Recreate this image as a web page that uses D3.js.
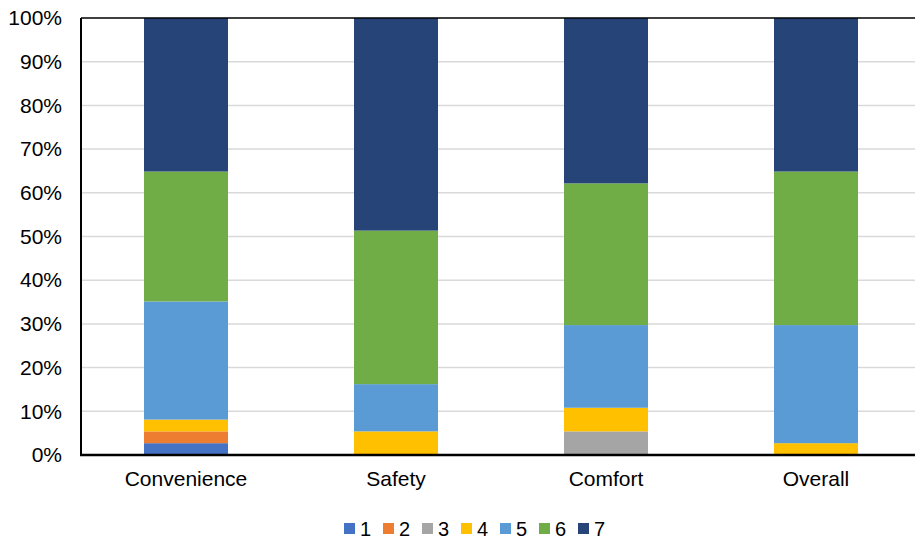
<!DOCTYPE html>
<html>
<head>
<meta charset="utf-8">
<script src="https://cdn.jsdelivr.net/npm/d3@7"></script>
<style>
  html, body { margin: 0; padding: 0; background: #fff; }
  svg { display: block; font-family: "Liberation Sans", Arial, sans-serif; }
</style>
</head>
<body>
<svg id="chart" width="915" height="543"></svg>
<script>
// Share of responses (%) per rating level, for each aspect
const categories = ["Convenience", "Safety", "Comfort", "Overall"];
const levels = ["1", "2", "3", "4", "5", "6", "7"];
const level1 = [2.7, 0, 0, 0];
const level2 = [2.7, 0, 0, 0];
const level3 = [0, 0, 5.4, 0];
const level4 = [2.7, 5.4, 5.4, 2.7];
const level5 = [27.0, 10.8, 18.9, 27.0];
const level6 = [29.7, 35.1, 32.4, 35.1];
const level7 = [35.1, 48.6, 37.8, 35.1];
const tickLabels = ["0%", "10%", "20%", "30%", "40%", "50%", "60%", "70%", "80%", "90%", "100%"];
const colors = ["#4472C4", "#ED7D31", "#A5A5A5", "#FFC000", "#5B9BD5", "#70AD47", "#264478"];

const seriesValues = [level1, level2, level3, level4, level5, level6, level7];
const rows = categories.map((c, i) => {
  const r = { category: c };
  levels.forEach((l, j) => { r[l] = seriesValues[j][i]; });
  return r;
});

const svg = d3.select("#chart");
const plot = { left: 81, right: 921, top: 18, bottom: 455 };

const x = d3.scaleBand().domain(categories).range([plot.left, plot.right]).paddingInner(0.6).paddingOuter(0.3);
const y = d3.scaleLinear().domain([0, 1]).range([plot.bottom, plot.top]);

const stacked = d3.stack().keys(levels).offset(d3.stackOffsetExpand)(rows);

// Horizontal gridlines
svg.append("g")
  .selectAll("line")
  .data(d3.range(1, 10).map(v => v / 10))
  .join("line")
  .attr("x1", plot.left).attr("x2", plot.right)
  .attr("y1", d => y(d)).attr("y2", d => y(d))
  .attr("stroke", "#D9D9D9").attr("stroke-width", 1.5);

// Stacked bars
svg.append("g")
  .selectAll("g")
  .data(stacked)
  .join("g")
  .attr("fill", (d, i) => colors[i])
  .selectAll("rect")
  .data(d => d)
  .join("rect")
  .attr("x", d => x(d.data.category))
  .attr("width", x.bandwidth())
  .attr("y", d => y(d[1]))
  .attr("height", d => y(d[0]) - y(d[1]));

// Y axis
const yAxis = d3.axisLeft(y)
  .tickValues(d3.range(0, 11).map(v => v / 10))
  .tickFormat((d, i) => tickLabels[i])
  .tickSize(0).tickPadding(19);
const ya = svg.append("g").attr("transform", `translate(${plot.left},0)`).call(yAxis);
ya.select(".domain").remove();
ya.selectAll("text").attr("font-size", 21).attr("fill", "#000").attr("font-family", "Liberation Sans, Arial, sans-serif");

// X axis
const xAxis = d3.axisBottom(x).tickSize(0).tickPadding(16);
const xa = svg.append("g").attr("transform", `translate(0,${plot.bottom})`).call(xAxis);
xa.select(".domain").remove();
xa.selectAll("text").attr("font-size", 21).attr("fill", "#000").attr("font-family", "Liberation Sans, Arial, sans-serif");

// Plot frame
svg.append("line").attr("x1", plot.left).attr("x2", plot.right).attr("y1", plot.top).attr("y2", plot.top)
  .attr("stroke", "#000").attr("stroke-width", 1.5);
svg.append("line").attr("x1", plot.left).attr("x2", plot.left).attr("y1", plot.top).attr("y2", plot.bottom + 1)
  .attr("stroke", "#000").attr("stroke-width", 2);
svg.append("line").attr("x1", plot.left - 1).attr("x2", plot.right).attr("y1", plot.bottom).attr("y2", plot.bottom)
  .attr("stroke", "#000").attr("stroke-width", 2.5);

// Legend
const legend = svg.append("g").attr("transform", "translate(344,523)");
const item = legend.selectAll("g")
  .data(levels)
  .join("g")
  .attr("transform", (d, i) => `translate(${i * 39},0)`);
item.append("rect").attr("width", 11).attr("height", 11).attr("fill", (d, i) => colors[i]);
item.append("text")
  .attr("x", 16).attr("y", 12.5)
  .attr("font-size", 20).attr("fill", "#000")
  .text(d => d);
</script>
</body>
</html>
